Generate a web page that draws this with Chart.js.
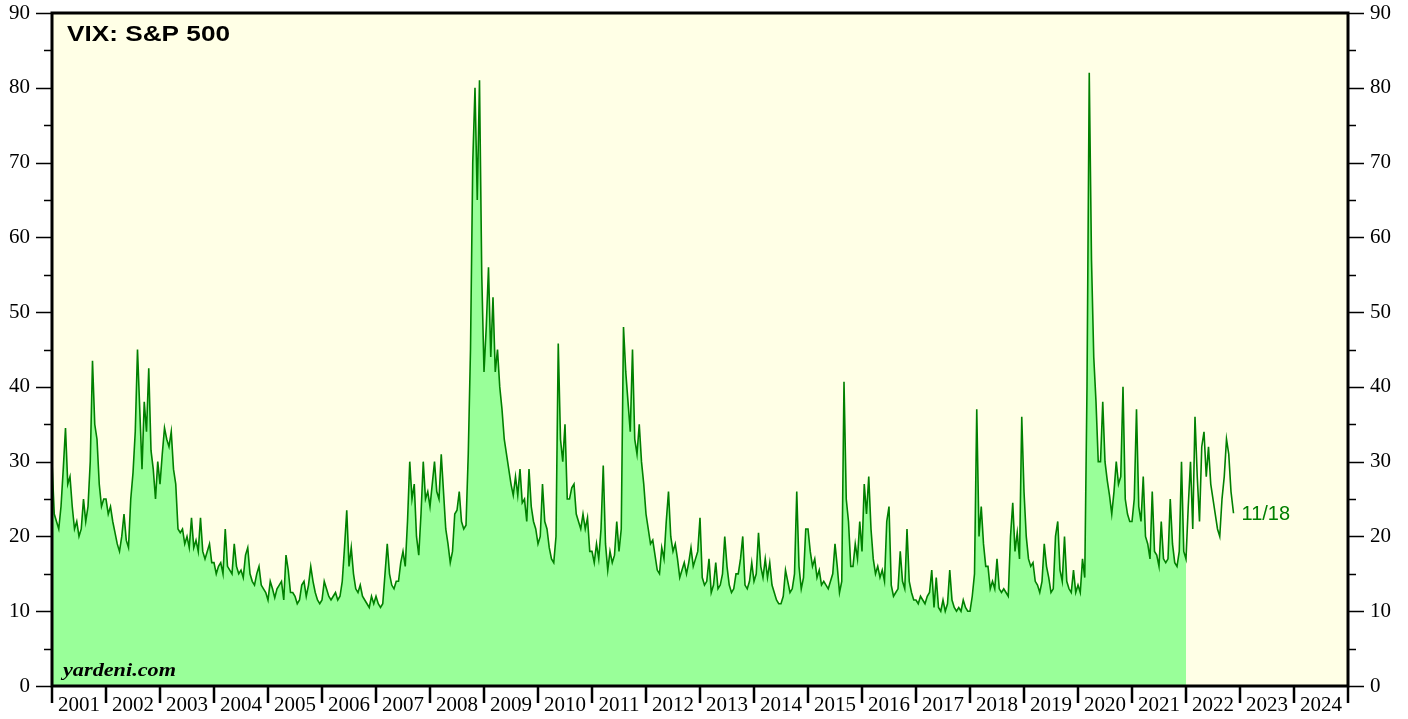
<!DOCTYPE html>
<html>
<head>
<meta charset="utf-8">
<title>VIX: S&amp;P 500</title>
<script src="https://cdn.jsdelivr.net/npm/chart.js@4.4.0/dist/chart.umd.min.js"></script>
<style>
  html, body { margin: 0; padding: 0; background: #fff; }
  #wrap { width: 1408px; height: 719px; position: relative; }
</style>
</head>
<body>
<div id="wrap"><canvas id="chart"></canvas></div>
<script>
// VIX readings taken off the chart, two per month (24 a year)
const vix2001 = [30, 23, 22, 21, 24, 29, 34.5, 27, 28, 24, 21, 22, 20, 21, 25, 22, 24, 30, 43.5, 35, 33, 27, 24, 25];
const vix2002 = [25, 23, 24, 22, 20.5, 19, 18, 20, 23, 19.5, 18.5, 25, 28.5, 34, 45, 37, 29, 38, 34, 42.5, 31.5, 29, 25, 30];
const vix2003 = [27, 31, 34.5, 33, 32, 34, 29, 27, 21, 20.5, 21, 19, 20, 18.5, 22.5, 18.5, 19.5, 18, 22.5, 18, 17, 18, 19, 16.5];
const vix2004 = [16.5, 15, 16, 16.5, 15, 21, 16, 15.5, 15, 19, 16, 15, 15.5, 14.5, 17.5, 18.5, 15, 14, 13.5, 15, 16, 13.5, 13, 12.5];
const vix2005 = [11.5, 14, 13, 11.8, 13, 13.5, 14, 11.5, 17.5, 15.5, 12.5, 12.5, 12, 11, 11.5, 13.5, 14, 12, 13.5, 16, 14, 12.5, 11.5, 11];
const vix2006 = [11.5, 14, 13, 12, 11.5, 12, 12.5, 11.5, 12, 14, 18.5, 23.5, 16, 18.5, 15, 13, 12.5, 13.5, 12, 11.5, 11, 10.5, 12, 11];
const vix2007 = [12, 11, 10.5, 11, 15, 19, 15, 13.5, 13, 14, 14, 16.5, 18, 16, 22, 30, 25, 27, 20, 17.5, 23, 30, 25, 26];
const vix2008 = [24, 27, 30, 26, 25, 31, 26, 21, 19, 16.5, 18, 23, 23.5, 26, 22, 21, 21.5, 31, 45, 70, 80, 65, 81, 55];
const vix2009 = [42, 48, 56, 44, 52, 42, 45, 40, 37, 33, 31, 29, 27, 25.5, 28, 25.5, 29, 24.5, 25, 22, 29, 24, 22, 21];
const vix2010 = [19, 20, 27, 22, 21, 18.5, 17, 16.5, 20, 45.8, 33, 30, 35, 25, 25, 26.5, 27, 23, 22, 21, 23, 21, 22.5, 18];
const vix2011 = [18, 16.5, 19, 17, 21, 29.5, 19, 15.5, 18, 16.5, 17.5, 22, 18, 21, 48, 42, 38, 34, 45, 33, 31, 35, 30, 27];
const vix2012 = [23, 21, 19, 19.5, 17.5, 15.5, 15, 18.5, 17, 22, 26, 20, 18, 19, 17, 14.5, 15.5, 16.5, 15, 16.5, 18.5, 16, 17, 18];
const vix2013 = [22.5, 14.5, 13.5, 14, 17, 12.5, 13.5, 16.5, 13, 13.5, 15, 20, 16, 13.5, 12.5, 13, 15, 15, 17, 20, 13.5, 13, 14, 16.5];
const vix2014 = [14, 15, 20.5, 16, 14.5, 17, 14.5, 16.5, 13.5, 12.5, 11.5, 11, 11, 12, 15.5, 14, 12.5, 13, 15, 26, 16, 13, 14.5, 21];
const vix2015 = [21, 18, 16, 17, 14.5, 15.5, 13.5, 14, 13.5, 13, 14, 15, 19, 16, 12.5, 14, 40.7, 25, 22, 16, 16, 19, 17, 22];
const vix2016 = [18, 27, 23, 28, 21, 17, 15, 16, 14.5, 15.5, 14, 22, 24, 13.5, 12, 12.5, 13, 18, 14, 13, 21, 14, 12.5, 11.5];
const vix2017 = [11.5, 11, 12, 11.5, 11, 12, 12.5, 15.5, 10.5, 14.5, 10.5, 10, 11.5, 10, 11, 15.5, 11.5, 10.5, 10, 10.5, 10, 11.5, 10.5, 10];
const vix2018 = [10, 12, 15, 37, 20, 24, 19, 16, 16, 13, 14, 13, 17, 13, 12.5, 13, 12.5, 12, 20, 24.5, 18, 20.5, 17, 36];
const vix2019 = [26, 20, 17, 16, 16.5, 14, 13.5, 12.5, 14, 19, 16, 14.5, 12.5, 13, 20, 22, 15.5, 14, 20, 14, 13, 12.5, 15.5, 12.5];
const vix2020 = [13.5, 12.5, 17, 14.5, 40, 82, 57, 44, 38, 30, 30, 38, 30, 27.5, 25.5, 23, 26, 30, 27, 28, 40, 25, 23, 22];
const vix2021 = [22, 25, 37, 24, 22, 28, 20, 19, 17, 26, 18, 17.5, 16, 22, 17, 16.5, 17, 25, 19, 16.5, 16, 18, 30, 18];
const vix2022 = [17, 24, 30, 21, 36, 28, 22, 32, 34, 28, 32, 27, 25, 23, 21, 20, 25, 28, 33, 31, 26];

// last reading (11/18/2022)
const lastDate = 2022.88;
const lastValue = 23.1;
const lastLabel = '11/18';

// green area stops at the end of 2021
const shadedUntil = 2022;

const firstYear = 2001;
const lastYear = 2024;
const yTicksMajor = [0, 10, 20, 30, 40, 50, 60, 70, 80, 90];

const yearly = [vix2001, vix2002, vix2003, vix2004, vix2005, vix2006, vix2007, vix2008,
  vix2009, vix2010, vix2011, vix2012, vix2013, vix2014, vix2015, vix2016, vix2017,
  vix2018, vix2019, vix2020, vix2021, vix2022];

const linePoints = [];
yearly.forEach((vals, k) => {
  vals.forEach((v, i) => linePoints.push({ x: firstYear + k + i / 24, y: v }));
});
linePoints.push({ x: lastDate, y: lastValue });

const areaPoints = linePoints.filter(p => p.x < shadedUntil);
areaPoints.push({ x: shadedUntil, y: vix2022[0] });

Chart.defaults.font.family = '"Liberation Serif", "Times New Roman", serif';

// draw text stretched to a given width
function wideText(ctx, text, x, y, width) {
  const w = ctx.measureText(text).width;
  ctx.save();
  ctx.translate(x, y);
  ctx.scale(width / w, 1);
  ctx.fillText(text, 0, 0);
  ctx.restore();
}

const decorations = {
  id: 'decorations',
  beforeDraw(chart) {
    const { ctx, chartArea: a } = chart;
    ctx.save();
    ctx.fillStyle = '#ffffe6';
    ctx.fillRect(a.left, a.top, a.right - a.left, a.bottom - a.top);
    ctx.restore();
  },
  afterDraw(chart) {
    const { ctx, chartArea: a, scales } = chart;
    const xs = scales.x, ys = scales.y;
    ctx.save();
    ctx.strokeStyle = '#000';

    // y ticks, both sides (minor every 5)
    ctx.lineWidth = 1.5;
    for (let v = 0; v <= 90; v += 5) {
      const py = Math.round(ys.getPixelForValue(v)) + 0.5;
      const len = v % 10 === 0 ? 16 : 8;
      ctx.beginPath();
      ctx.moveTo(a.left - len, py); ctx.lineTo(a.left, py);
      ctx.moveTo(a.right, py); ctx.lineTo(a.right + len, py);
      ctx.stroke();
    }

    // year boundaries
    ctx.lineWidth = 2.5;
    for (let yr = firstYear; yr <= lastYear + 1; yr++) {
      const px = xs.getPixelForValue(yr);
      ctx.beginPath();
      ctx.moveTo(px, a.bottom); ctx.lineTo(px, a.bottom + 17);
      ctx.stroke();
    }

    // plot frame
    ctx.lineWidth = 3;
    ctx.strokeRect(a.left, a.top, a.right - a.left, a.bottom - a.top);

    // texts
    ctx.fillStyle = '#000';
    ctx.textBaseline = 'alphabetic';
    ctx.font = 'bold 22px "Liberation Sans", Arial, sans-serif';
    wideText(ctx, 'VIX: S&P 500', a.left + 15, a.top + 28, 163);

    ctx.font = 'italic bold 19px "Liberation Serif", "Times New Roman", serif';
    wideText(ctx, 'yardeni.com', a.left + 11, a.bottom - 10, 113);

    ctx.fillStyle = '#008000';
    ctx.font = '20px "Liberation Sans", Arial, sans-serif';
    ctx.fillText(lastLabel, xs.getPixelForValue(lastDate) + 8, ys.getPixelForValue(lastValue) + 7);
    ctx.restore();
  }
};

const noPad = s => { s.paddingTop = 0; s.paddingBottom = 0; s.paddingLeft = 0; s.paddingRight = 0; };

const yAxis = (pos, w) => ({
  position: pos,
  min: 0,
  max: 90,
  afterFit(s) { s.width = w; noPad(s); },
  afterBuildTicks(s) { s.ticks = yTicksMajor.map(v => ({ value: v })); },
  grid: { display: false, drawTicks: false },
  border: { display: false },
  ticks: { color: '#000', padding: 22, font: { size: 21 } }
});

new Chart(document.getElementById('chart'), {
  type: 'line',
  data: {
    datasets: [
      {
        label: 'VIX',
        data: linePoints,
        borderColor: '#008000',
        borderWidth: 1.6,
        pointRadius: 0,
        fill: false,
        tension: 0,
        order: 0
      },
      {
        label: 'VIX area',
        data: areaPoints,
        borderWidth: 0,
        borderColor: 'rgba(0,0,0,0)',
        backgroundColor: '#99ff99',
        pointRadius: 0,
        fill: 'origin',
        tension: 0,
        order: 1
      }
    ]
  },
  options: {
    responsive: true,
    maintainAspectRatio: false,
    animation: false,
    layout: { padding: { top: 13, left: 0, right: 0, bottom: 0 } },
    plugins: { legend: { display: false }, tooltip: { enabled: false } },
    scales: {
      x: {
        type: 'linear',
        min: firstYear,
        max: lastYear + 1,
        afterFit(s) { s.height = 33; noPad(s); },
        grid: { display: false, drawTicks: false },
        border: { display: false },
        ticks: {
          stepSize: 1,
          color: '#000',
          padding: 7,
          labelOffset: 27,
          maxRotation: 0,
          autoSkip: false,
          font: { size: 21 },
          callback: v => (v <= lastYear ? String(v) : '')
        }
      },
      y: yAxis('left', 52),
      y2: yAxis('right', 60)
    }
  },
  plugins: [decorations]
});
</script>
</body>
</html>
